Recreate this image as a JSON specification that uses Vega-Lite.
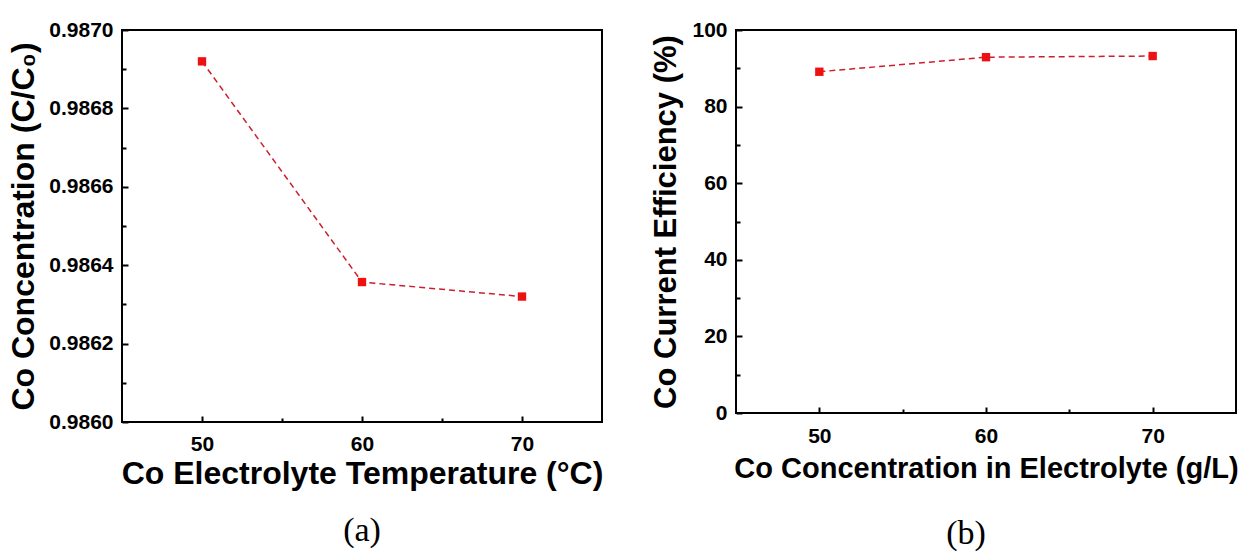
{
  "$schema": "https://vega.github.io/schema/vega-lite/v6.json",
  "padding": {"left": 6, "top": 18, "right": 5, "bottom": 5},
  "spacing": 45,
  "config": {
    "view": {"stroke": "black", "strokeWidth": 2},
    "axis": {
      "domain": false,
      "grid": false,
      "labelFont": "Liberation Sans",
      "labelFontWeight": "bold",
      "labelFontSize": 21,
      "labelColor": "black",
      "titleFont": "Liberation Sans",
      "titleFontWeight": "bold",
      "titleColor": "black",
      "tickColor": "black",
      "tickWidth": 2
    },
    "title": {"font": "Liberation Serif", "fontWeight": "normal", "fontSize": 34, "color": "black"}
  },
  "hconcat": [
    {
      "width": 480,
      "height": 392,
      "title": {"text": "(a)", "orient": "bottom", "anchor": "middle", "frame": "group", "offset": 25},
      "data": {"values": [
        {"temp": 50, "conc": 0.98692},
        {"temp": 60, "conc": 0.986357},
        {"temp": 70, "conc": 0.98632}
      ]},
      "encoding": {
        "x": {"field": "temp", "type": "quantitative",
          "scale": {"domain": [45, 75], "nice": false, "zero": false},
          "axis": {"title": "Co Electrolyte Temperature (°C)", "titleFontSize": 32, "titlePadding": 4,
            "values": [50, 55, 60, 65, 70],
            "labelExpr": "datum.value % 10 === 0 ? datum.label : ''",
            "tickSize": {"condition": {"test": "datum.value % 10 === 0", "value": -6}, "value": -4},
            "labelPadding": 17}},
        "y": {"field": "conc", "type": "quantitative",
          "scale": {"domain": [0.986, 0.987], "nice": false, "zero": false},
          "axis": {"title": "Co Concentration (C/C₀)", "titleFontSize": 32, "titlePadding": 8,
            "values": [0.986, 0.9861, 0.9862, 0.9863, 0.9864, 0.9865, 0.9866, 0.9867, 0.9868, 0.9869, 0.987],
            "format": ".4f",
            "labelExpr": "round(datum.value * 10000) % 2 === 0 ? datum.label : ''",
            "tickSize": {"condition": {"test": "round(datum.value * 10000) % 2 === 0", "value": -6}, "value": -4},
            "labelPadding": 15}}
      },
      "layer": [
        {"mark": {"type": "line", "color": "#cc1f2e", "strokeWidth": 1.5, "strokeDash": [6, 4]}},
        {"mark": {"type": "point", "shape": "square", "filled": true, "size": 70, "color": "#ee1111", "opacity": 1}}
      ]
    },
    {
      "width": 500,
      "height": 383,
      "title": {"text": "(b)", "orient": "bottom", "anchor": "middle", "frame": "group", "offset": 28, "dx": -20, "dy": 6},
      "data": {"values": [
        {"co": 50, "eff": 89.1},
        {"co": 60, "eff": 92.9},
        {"co": 70, "eff": 93.2}
      ]},
      "encoding": {
        "x": {"field": "co", "type": "quantitative",
          "scale": {"domain": [45, 75], "nice": false, "zero": false},
          "axis": {"title": "Co Concentration in Electrolyte (g/L)", "titleFontSize": 29, "titlePadding": 8,
            "values": [50, 55, 60, 65, 70],
            "labelExpr": "datum.value % 10 === 0 ? datum.label : ''",
            "tickSize": {"condition": {"test": "datum.value % 10 === 0", "value": -6}, "value": -4},
            "labelPadding": 18}},
        "y": {"field": "eff", "type": "quantitative",
          "scale": {"domain": [0, 100], "nice": false, "zero": true},
          "axis": {"title": "Co Current Efficiency (%)", "titleFontSize": 31, "titlePadding": 9,
            "values": [0, 10, 20, 30, 40, 50, 60, 70, 80, 90, 100],
            "labelExpr": "datum.value % 20 === 0 ? datum.label : ''",
            "tickSize": {"condition": {"test": "datum.value % 20 === 0", "value": -6}, "value": -4},
            "labelPadding": 15}}
      },
      "layer": [
        {"mark": {"type": "line", "color": "#cc1f2e", "strokeWidth": 1.5, "strokeDash": [6, 4]}},
        {"mark": {"type": "point", "shape": "square", "filled": true, "size": 70, "color": "#ee1111", "opacity": 1}}
      ]
    }
  ]
}
